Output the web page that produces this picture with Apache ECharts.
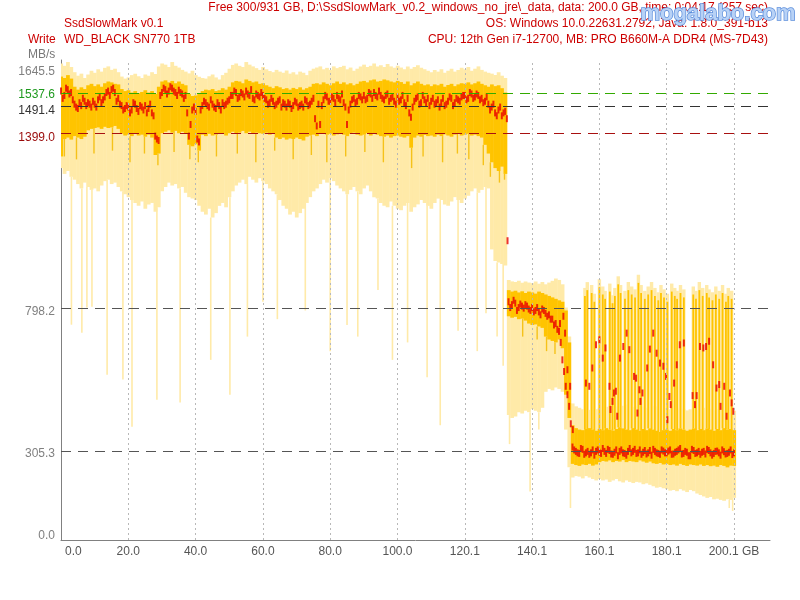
<!DOCTYPE html>
<html><head><meta charset="utf-8">
<script src="https://cdn.jsdelivr.net/npm/echarts@6/dist/echarts.min.js"></script>
<style>html,body{margin:0;padding:0;background:#fff}#c{width:800px;height:600px}</style>
</head><body><div id="c"></div>
<script>
// ---------- data ----------
const xTickValues = [0,20,40,60,80,100,120,140,160,180,200];
const xTickLabels = ['0.0','20.0','40.0','60.0','80.0','100.0','120.1','140.1','160.1','180.1','200.1 GB'];
const yTickValues = [0, 305.3, 798.2, 1399.0, 1491.4, 1537.6, 1645.5];
const yTickLabels = ['0.0','305.3','798.2','1399.0','1491.4','1537.6','1645.5'];
const refLineValues = [305.3, 798.2, 1399.0, 1491.4, 1537.6];

// per-GB samples, index = GB (0..200)
const lightHi = [
1640,1632,1645,1628,1610,1598,1605,1590,1602,1615,
1608,1620,1612,1625,1630,1618,1622,1610,1595,1588,
1592,1600,1605,1596,1590,1602,1598,1610,1604,1630,
1640,1636,1628,1645,1632,1626,1618,1612,1606,1615,
1600,1594,1590,1588,1596,1602,1592,1585,1600,1608,
1622,1635,1640,1632,1628,1645,1636,1630,1624,1618,
1628,1620,1614,1610,1618,1612,1608,1616,1605,1610,
1602,1612,1608,1600,1615,1622,1626,1630,1620,1625,
1618,1630,1624,1628,1632,1620,1626,1615,1622,1630,
1636,1628,1632,1640,1630,1634,1628,1638,1630,1625,
1632,1626,1620,1630,1622,1628,1634,1625,1620,1615,
1610,1618,1612,1620,1608,1615,1622,1612,1618,1625,
1620,1628,1615,1622,1630,1618,1612,1608,1605,1600,
1610,1598,1590,895,890,888,892,885,890,886,
884,890,882,888,880,886,892,900,895,880,
800,700,470,460,455,450,452,448,445,450,
455,460,458,462,465,460,458,462,466,460,
458,462,465,460,455,458,462,460,456,452,
455,450,448,452,455,450,446,450,452,448,
450,455,448,452,446,450,455,448,452,450,
445];
const lightLo = [
1280,1260,1270,1250,1240,1225,1210,1230,1215,1205,
1210,1200,1220,1235,1240,1225,1230,1215,1200,1190,
1180,1170,1160,1150,1165,1140,1155,1160,1130,1145,
1200,1215,1230,1220,1225,1210,1215,1195,1180,1175,
1170,1150,1130,1120,1140,1110,1125,1150,1160,1145,
1180,1200,1220,1230,1240,1225,1250,1240,1230,1245,
1235,1225,1210,1200,1190,1170,1150,1140,1120,1130,
1110,1125,1140,1160,1180,1200,1210,1225,1240,1230,
1245,1235,1220,1210,1200,1190,1205,1215,1200,1190,
1210,1220,1200,1180,1175,1160,1150,1145,1165,1150,
1140,1135,1150,1160,1130,1145,1155,1170,1160,1150,
1140,1160,1175,1170,1155,1150,1165,1180,1170,1160,
1175,1185,1200,1210,1195,1205,1215,1210,1000,960,
955,950,945,430,420,425,440,435,445,440,
450,445,440,455,510,520,515,525,520,510,
380,250,215,220,218,212,220,215,210,205,
210,205,208,200,205,210,202,198,205,200,
196,200,198,192,195,190,185,180,182,178,
175,170,172,168,175,170,165,172,168,160,
155,150,145,148,140,142,138,135,140,138,
145];
const orangeHi = [
1595,1590,1600,1588,1560,1550,1558,1552,1565,1570,
1562,1568,1560,1572,1578,1575,1570,1568,1552,1545,
1548,1540,1545,1538,1542,1548,1540,1545,1535,1560,
1578,1582,1575,1580,1572,1578,1570,1565,1535,1528,
1530,1535,1545,1550,1548,1552,1545,1548,1555,1550,
1560,1575,1580,1578,1572,1585,1580,1575,1578,1570,
1572,1565,1560,1555,1562,1558,1552,1555,1550,1556,
1552,1558,1550,1555,1560,1570,1572,1568,1575,1570,
1565,1572,1578,1570,1575,1568,1572,1565,1570,1578,
1580,1575,1582,1585,1578,1580,1585,1582,1578,1575,
1580,1576,1570,1578,1565,1572,1578,1570,1565,1568,
1562,1568,1565,1570,1560,1566,1570,1562,1568,1572,
1570,1575,1568,1572,1578,1570,1565,1560,1568,1562,
1565,1555,1540,860,855,858,852,856,850,855,
852,848,855,850,845,840,835,830,825,820,
790,680,395,385,380,378,382,385,380,376,
382,378,385,380,376,382,388,384,380,378,
385,380,376,382,378,384,380,376,372,378,
380,376,382,378,384,380,376,380,384,378,
382,378,384,380,376,382,378,385,380,382,
378];
const orangeLo = [
1320,1380,1385,1378,1390,1385,1380,1388,1410,1415,
1418,1420,1415,1422,1418,1420,1425,1415,1398,1392,
1395,1390,1398,1392,1395,1388,1395,1385,1325,1330,
1400,1405,1410,1402,1408,1400,1405,1398,1360,1355,
1362,1340,1395,1390,1398,1392,1395,1400,1398,1392,
1400,1405,1398,1402,1408,1400,1405,1398,1402,1400,
1398,1402,1395,1400,1385,1380,1385,1378,1382,1380,
1385,1380,1375,1388,1392,1395,1390,1398,1400,1395,
1398,1392,1396,1400,1395,1390,1398,1402,1395,1392,
1395,1400,1392,1398,1395,1390,1388,1392,1385,1390,
1392,1388,1385,1390,1350,1385,1392,1388,1394,1390,
1392,1388,1395,1390,1396,1392,1388,1395,1398,1392,
1395,1398,1392,1395,1390,1385,1360,1330,1300,1280,
1270,1285,1260,770,765,768,760,762,755,745,
740,742,735,730,700,690,685,680,690,660,
500,420,262,258,255,260,258,262,256,260,
268,272,270,274,268,272,270,275,268,272,
270,268,274,270,266,270,264,262,265,260,
262,258,260,256,262,258,255,260,258,256,
260,255,258,254,256,252,258,255,250,256,
255];
// red marks at whole GB (index = GB)
const redMid = [
1545,1530,1550,1540,1500,1485,1495,1510,1505,1490,
1500,1515,1505,1525,1545,1550,1540,1520,1495,1485,
1490,1480,1500,1475,1490,1495,1485,1470,1390,1375,
1540,1550,1545,1555,1540,1548,1535,1530,1390,1480,
1475,1370,1495,1505,1490,1500,1485,1495,1505,1500,
1515,1530,1540,1525,1535,1545,1530,1520,1535,1525,
1530,1515,1505,1510,1500,1515,1505,1490,1500,1495,
1505,1495,1490,1510,1500,1520,1425,1430,1515,1525,
1510,1520,1530,1515,1505,1430,1500,1520,1510,1525,
1530,1520,1535,1540,1525,1530,1515,1535,1520,1510,
1525,1515,1505,1520,1455,1510,1525,1505,1515,1520,
1510,1500,1515,1505,1495,1510,1520,1505,1515,1525,
1530,1520,1535,1525,1530,1520,1510,1500,1490,1470,
1480,1460,1475,820,810,815,800,805,810,795,
800,790,785,795,780,775,760,745,718,620,
529,460,320,305,298,312,300,295,310,305,
302,315,298,308,295,310,305,300,292,315,
305,298,310,302,296,308,312,300,295,306,
300,310,296,305,315,298,302,290,308,300,
295,305,312,300,298,306,292,304,298,310,
300];
// red marks at half GB (index i -> GB i+0.5)
const redMidHalf = [
1520,1555,1535,1515,1490,1505,1520,1495,1500,1510,
1490,1525,1515,1540,1530,1555,1510,1500,1480,1495,
1470,1505,1485,1495,1480,1470,1500,1460,1380,1530,
1555,1535,1560,1545,1530,1540,1520,1470,1430,1490,
1380,1480,1510,1495,1515,1490,1505,1480,1495,1510,
1530,1545,1520,1540,1525,1535,1550,1515,1530,1540,
1520,1500,1520,1495,1510,1490,1500,1505,1485,1510,
1490,1500,1515,1495,1510,1450,1500,1495,1530,1510,
1525,1505,1520,1535,1490,1480,1515,1505,1530,1515,
1515,1540,1520,1530,1545,1520,1530,1510,1525,1500,
1510,1530,1495,1470,1490,1520,1500,1530,1505,1495,
1520,1505,1490,1520,1500,1525,1495,1520,1510,1530,
1515,1540,1520,1535,1515,1505,1525,1480,1500,1460,
1490,1470,1450,800,825,790,812,798,805,790,
785,800,775,790,770,760,740,725,680,580,
500,400,310,300,315,295,305,300,292,310,
298,305,312,296,302,290,310,298,305,300,
312,300,295,308,300,292,305,298,310,300,
306,295,302,310,296,305,290,312,298,305,
302,296,308,292,305,300,310,296,302,294];
// isolated red marks (GB, MB/s)
const redExtraX = [132.7,148.3,149.3,149.8,150.5,151.3,152.1,
156.0,157.0,157.9,159.0,160.0,161.0,161.8,163.0,163.3,163.9,164.3,164.9,165.3,166.1,167.1,168.1,168.9,
170.3,170.9,171.3,171.9,172.2,172.8,174.2,175.0,176.0,177.0,178.0,179.0,179.8,180.2,180.8,181.2,182.2,
183.0,183.9,185.1,187.7,188.4,188.9,189.9,190.9,191.7,192.6,193.8,194.8,195.6,196.0,197.1,197.8,198.8,199.3,199.8];
const redExtraY = [1030,745,770,712,586,529,380,
540,529,592,672,689,626,661,529,449,477,506,512,426,626,666,712,655,
563,557,437,517,477,506,592,657,712,643,609,598,563,414,494,466,540,
603,672,678,497,466,497,666,661,666,684,603,523,535,460,529,426,506,472,443];
// thin pale drops below the pale band (GB, MB/s)
const dipX = [3.1,6.2,7.7,9.2,13.7,18.4,21.1,28.5,35.4,44.5,50.2,55.4,60.0,64.3,72.6,80.0,85.0,88.2,94.2,98.5,103.0,108.8,112.7,118.0,123.7,126.3,129.6,131.4,133.3,139.4,142.0,151.4,198.6,199.6];
const dipLow = [741,713,800,803,569,552,390,483,473,620,500,700,820,760,790,650,740,700,860,620,680,560,395,720,650,780,700,600,330,167,380,110,110,100];
// thin orange drops below the orange band (GB, MB/s)
const orangeDipX = [1.0,4.6,9.8,15.3,20.5,24.8,28.8,33.6,38.3,40.8,46.2,52.4,57.9,63.5,69.0,74.4,79.0,84.6,90.3,95.8,104.2,107.6,113.4,117.8,121.2,125.5,127.6,130.3,131.8,137.2,141.5,144.3,146.8];
const orangeDipLow = [1320,1310,1330,1340,1300,1330,1290,1335,1310,1300,1320,1330,1300,1340,1310,1325,1300,1320,1335,1300,1280,1320,1300,1330,1310,1290,1250,1230,1240,700,690,650,640];
// thin orange spikes rising from the low band (GB, MB/s)
const spikeX = [155.7,156.4,157.7,158.5,160.0,161.0,161.7,163.1,163.9,164.6,165.6,166.3,167.6,168.6,169.6,170.6,171.6,172.4,173.5,174.5,175.5,176.5,177.5,178.3,179.2,180.2,181.5,182.4,183.1,184.1,185.1,187.9,188.7,189.7,190.7,191.9,192.6,193.6,194.6,195.6,196.6,197.6,198.3,199.3];
const spikeTop = [840,860,850,820,870,845,830,855,815,840,880,850,830,860,845,835,885,850,830,845,860,840,825,850,835,820,855,840,830,850,835,845,830,860,840,850,835,825,845,830,850,820,840,830];

// ---------- build chart ----------
const PALE = '#ffeaa8', ORANGE = '#ffc400', RED = '#e80000';
const lineStyles = {305.3:'#555555', 798.2:'#555555', 1399.0:'#a81010', 1491.4:'#333333', 1537.6:'#33aa00'};

const bandPale = [], bandOrange = [], redPts = [];
for (let i = 0; i < lightHi.length; i++) {
  bandPale.push([i, lightLo[i], lightHi[i]]);
  bandOrange.push([i, orangeLo[i], orangeHi[i]]);
  redPts.push([i, redMid[i]]);
}
for (let i = 0; i < redMidHalf.length; i++) redPts.push([i + 0.5, redMidHalf[i]]);
for (let i = 0; i < redExtraX.length; i++) redPts.push([redExtraX[i], redExtraY[i]]);
const dips = dipX.map((x, i) => [x, dipLow[i], lightLo[Math.round(x)]]);
const oDips = orangeDipX.map((x, i) => [x, orangeDipLow[i], orangeLo[Math.round(x)]]);
const spikes = spikeX.map((x, i) => [x, orangeHi[Math.round(x)], spikeTop[i]]);

function bandRender(color) {
  return function (params, api) {
    const x = api.value(0), lo = api.value(1), hi = api.value(2);
    const a = api.coord([x - 0.5, hi]), b = api.coord([x + 0.5, lo]);
    return {type: 'rect', shape: {x: a[0], y: a[1], width: b[0] - a[0] + 0.4, height: b[1] - a[1]}, style: {fill: color}};
  };
}
function lineRender(color, w, extra) {
  return function (params, api) {
    const x = api.value(0), lo = api.value(1), hi = api.value(2);
    const a = api.coord([x, Math.max(lo, hi)]), b = api.coord([x, Math.min(lo, hi)]);
    return {type: 'rect', shape: {x: a[0] - w / 2, y: a[1] - extra, width: w, height: b[1] - a[1] + extra}, style: {fill: color}};
  };
}

const yRich = {
  c0: {color: '#808080', padding: [0, 0, 8, 0]},
  c1: {color: '#808080', padding: [4, 0, 0, 0]},
  c2: {color: '#808080', padding: [7, 0, 0, 0]},
  c3: {color: '#9a0a0a', padding: [8, 0, 0, 0]},
  c4: {color: '#333333', padding: [9, 0, 0, 0]},
  c5: {color: '#1f9a1f', padding: [2, 0, 0, 0]},
  c6: {color: '#808080', padding: [20, 0, 0, 0]}
};

const FONT = '"Liberation Sans", Arial, sans-serif';
const chart = echarts.init(document.getElementById('c'), null, {renderer: 'canvas'});
chart.setOption({
  animation: false,
  backgroundColor: '#ffffff',
  textStyle: {fontFamily: FONT},
  grid: {left: 61, top: 60, right: 30, bottom: 60, containLabel: false},
  xAxis: {
    type: 'value', min: 0, max: 210.7, interval: 20,
    axisLine: {show: true, lineStyle: {color: '#808080', width: 1}},
    axisTick: {show: false},
    splitLine: {show: false},
    axisLabel: {
      margin: 6, color: '#555555', fontSize: 12, fontFamily: FONT,
      showMaxLabel: false, alignMinLabel: 'left',
      formatter: function (v) {
        const k = xTickValues.indexOf(Math.round(v));
        if (k < 0 || Math.abs(v - xTickValues[k]) > 0.01) return '';
        return k === 0 ? '{f|' + xTickLabels[k] + '}' : xTickLabels[k];
      },
      rich: {f: {padding: [0, 0, 0, 4], color: '#555555', fontSize: 12}}
    }
  },
  yAxis: {
    type: 'value', min: 0, max: 1652,
    axisLine: {show: true, lineStyle: {color: '#808080', width: 1}},
    axisTick: {show: false},
    splitLine: {show: false},
    axisLabel: {
      customValues: yTickValues, margin: 6, fontSize: 12, fontFamily: FONT,
      formatter: function (v) {
        let k = 0, best = 1e9;
        yTickValues.forEach((t, i) => { if (Math.abs(t - v) < best) { best = Math.abs(t - v); k = i; } });
        return '{c' + k + '|' + yTickLabels[k] + '}';
      },
      rich: yRich
    }
  },
  series: [
    {type: 'custom', name: 'pale', z: 1, clip: true, renderItem: bandRender(PALE), encode: {x: 0, y: [1, 2]}, data: bandPale, silent: true},
    {type: 'custom', name: 'dips', z: 1, clip: true, renderItem: lineRender(PALE, 1.6, 0), encode: {x: 0, y: [1, 2]}, data: dips, silent: true},
    {type: 'custom', name: 'spikeHalo', z: 2, clip: true, renderItem: lineRender(PALE, 3.4, 8), encode: {x: 0, y: [1, 2]}, data: spikes, silent: true},
    {type: 'custom', name: 'orange', z: 2, clip: true, renderItem: bandRender(ORANGE), encode: {x: 0, y: [1, 2]}, data: bandOrange, silent: true},
    {type: 'custom', name: 'orangeDips', z: 2, clip: true, renderItem: lineRender('#f5c21a', 1.4, 0), encode: {x: 0, y: [1, 2]}, data: oDips, silent: true},
    {type: 'custom', name: 'spikes', z: 3, clip: true, renderItem: lineRender(ORANGE, 1.8, 0), encode: {x: 0, y: [1, 2]}, data: spikes, silent: true,
      markLine: {
        silent: true, symbol: 'none', label: {show: false}, animation: false,
        data: xTickValues.slice(1).map(v => ({xAxis: v, lineStyle: {color: '#b8b8b8', type: [2, 3], width: 1}}))
          .concat(refLineValues.map(v => ({yAxis: v, lineStyle: {color: lineStyles[v], type: [10, 7], width: 1}})))
      }
    },
    {type: 'scatter', name: 'red', z: 4, symbol: 'rect', symbolSize: [2, 7], itemStyle: {color: RED}, data: redPts, silent: true}
  ],
  graphic: [
    {type: 'text', x: 768, y: 8, style: {text: 'Free 300/931 GB, D:\\SsdSlowMark_v0.2_windows_no_jre\\_data, data: 200.0 GB, time: 0:04:17 (257 sec)', font: '12px ' + FONT, fill: '#cc0000', align: 'right', verticalAlign: 'middle'}},
    {type: 'text', x: 64, y: 24, style: {text: 'SsdSlowMark v0.1', font: '12px ' + FONT, fill: '#cc0000', verticalAlign: 'middle'}},
    {type: 'text', x: 28, y: 40, style: {text: 'Write', font: '12px ' + FONT, fill: '#cc0000', verticalAlign: 'middle'}},
    {type: 'text', x: 64, y: 40, style: {text: 'WD_BLACK SN770 1TB', font: '12px ' + FONT, fill: '#cc0000', verticalAlign: 'middle'}},
    {type: 'text', x: 28, y: 55, style: {text: 'MB/s', font: '12px ' + FONT, fill: '#777777', verticalAlign: 'middle'}},
    {type: 'text', x: 768, y: 24, style: {text: 'OS: Windows 10.0.22631.2792, Java: 1.8.0_391-b13', font: '12px ' + FONT, fill: '#cc0000', align: 'right', verticalAlign: 'middle'}},
    {type: 'text', x: 768, y: 40, style: {text: 'CPU: 12th Gen i7-12700, MB: PRO B660M-A DDR4 (MS-7D43)', font: '12px ' + FONT, fill: '#cc0000', align: 'right', verticalAlign: 'middle'}},
    {type: 'text', x: 718, y: 14, z: 100, style: {text: 'mogalabo.com', font: 'bold 22px ' + FONT, fill: '#b8d2f6', stroke: '#5d8fdc', lineWidth: 1.5, align: 'center', verticalAlign: 'middle'}}
  ]
});
</script></body></html>
